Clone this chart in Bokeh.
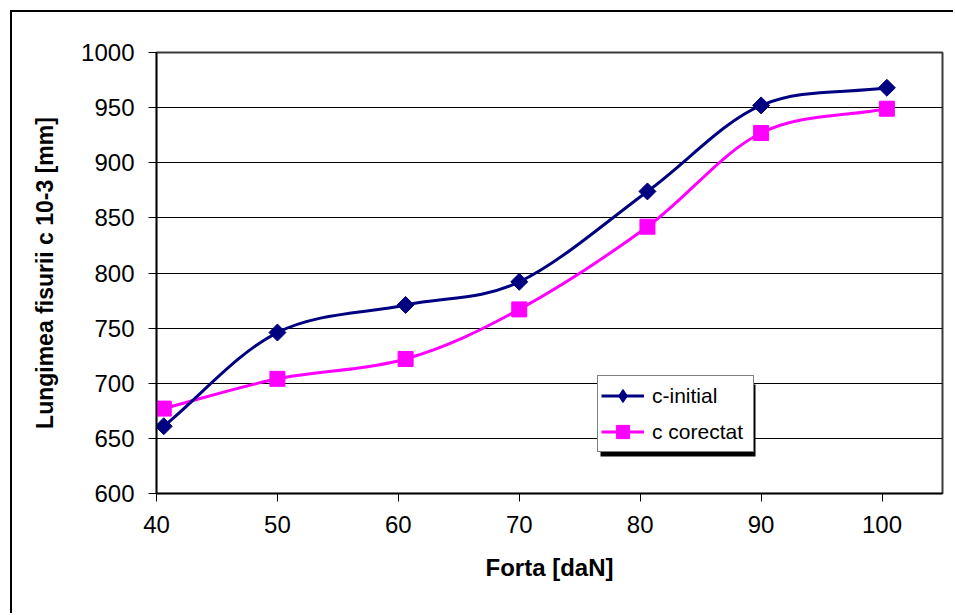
import numpy as np
from bokeh.plotting import figure
from bokeh.models import (ColumnDataSource, FixedTicker, Legend, LegendItem,
                          Range1d, BoxAnnotation)
from bokeh.embed import file_html
from bokeh.resources import INLINE

# ---- data ----
forta = [40.6, 50.0, 60.6, 70.0, 80.6, 90.0, 100.4]
c_initial = [661, 746, 771, 792, 874, 952, 968]
c_corectat = [677, 704, 722, 767, 842, 927, 949]
x_ticks = [40, 50, 60, 70, 80, 90, 100]
y_ticks = [600, 650, 700, 750, 800, 850, 900, 950, 1000]

FONT = "Liberation Sans"


def smooth_segments(xs, ys, k=1.0 / 6.0):
    """Bezier control points (Catmull-Rom style) between successive data points."""
    x = np.asarray(xs, float)
    y = np.asarray(ys, float)
    n = len(x)
    x0, y0, x1, y1, cx0, cy0, cx1, cy1 = ([] for _ in range(8))
    for i in range(n - 1):
        if i > 0:
            xp, yp = x[i - 1], y[i - 1]
        else:
            xp, yp = 2 * x[0] - x[1], 2 * y[0] - y[1]
        if i + 2 < n:
            xn, yn = x[i + 2], y[i + 2]
        else:
            xn, yn = 2 * x[-1] - x[-2], 2 * y[-1] - y[-2]
        x0.append(x[i]); y0.append(y[i])
        x1.append(x[i + 1]); y1.append(y[i + 1])
        cx0.append(x[i] + (x[i + 1] - xp) * k)
        cy0.append(y[i] + (y[i + 1] - yp) * k)
        cx1.append(x[i + 1] - (xn - x[i]) * k)
        cy1.append(y[i + 1] - (yn - y[i]) * k)
    return ColumnDataSource(dict(x0=x0, y0=y0, x1=x1, y1=y1,
                                 cx0=cx0, cy0=cy0, cx1=cx1, cy1=cy1))


W, H = 943, 603
p = figure(width=W, height=H, output_backend="svg", toolbar_location=None,
           x_range=Range1d(40, 105), y_range=Range1d(600, 1000),
           min_border_left=144, min_border_top=40, min_border_right=13,
           min_border_bottom=122)
p.margin = (10, 0, 0, 10)
p.styles = {"border-top": "2px solid black", "border-left": "2px solid black"}

p.background_fill_color = "white"
p.border_fill_color = "white"
p.outline_line_color = "#3a3a3a"
p.outline_line_width = 2

# grid
p.xgrid.grid_line_color = None
p.ygrid.grid_line_color = "black"
p.ygrid.grid_line_width = 1
p.ygrid.ticker = FixedTicker(ticks=y_ticks)

# axes
p.xaxis.ticker = FixedTicker(ticks=x_ticks)
p.yaxis.ticker = FixedTicker(ticks=y_ticks)
for ax in (p.xaxis[0], p.yaxis[0]):
    ax.axis_line_color = "black"
    ax.axis_line_width = 1.5
    ax.major_tick_line_color = "black"
    ax.major_tick_in = 0
    ax.major_tick_out = 8
    ax.minor_tick_line_color = None
    ax.major_label_text_font = FONT
    ax.major_label_text_font_size = "24px"
    ax.major_label_text_color = "black"
    ax.axis_label_text_font = FONT
    ax.axis_label_text_font_style = "bold"
    ax.axis_label_text_color = "black"

p.xaxis.axis_label = "Forta [daN]"
p.xaxis.axis_label_text_font_size = "24px"
p.xaxis.major_label_standoff = 14
p.xaxis.axis_label_standoff = 18

p.yaxis.axis_label = "Lungimea fisurii c 10-3 [mm]"
p.yaxis.axis_label_text_font_size = "23px"
p.yaxis.major_label_standoff = 14
p.yaxis.axis_label_standoff = 20

# series
NAVY = "#000080"
MAG = "#FF00FF"

src_i = smooth_segments(forta, c_initial)
src_c = smooth_segments(forta, c_corectat)
p.bezier(x0="x0", y0="y0", x1="x1", y1="y1", cx0="cx0", cy0="cy0",
         cx1="cx1", cy1="cy1", source=src_c, line_color=MAG, line_width=3)
p.bezier(x0="x0", y0="y0", x1="x1", y1="y1", cx0="cx0", cy0="cy0",
         cx1="cx1", cy1="cy1", source=src_i, line_color=NAVY, line_width=3)

p.scatter(forta, c_corectat, marker="square", size=15,
          fill_color=MAG, line_color=MAG)
p.scatter(forta, c_initial, marker="square", angle=np.pi / 4, size=12,
          fill_color=NAVY, line_color=NAVY)

# legend-only renderers (hidden in the plot, drawn by the legend)
leg_line_i = p.line(forta, c_initial, line_color=NAVY, line_width=3,
                    visible=False)
leg_mark_i = p.scatter(forta, c_initial, marker="diamond", fill_color=NAVY,
                       line_color=NAVY, visible=False)
leg_line_c = p.line(forta, c_corectat, line_color=MAG, line_width=3,
                    visible=False)
leg_mark_c = p.scatter(forta, c_corectat, marker="square", fill_color=MAG,
                       line_color=MAG, visible=False)

# legend shadow (screen units measured from the frame's bottom-left)
shadow = BoxAnnotation(left=444, right=599, top=109, bottom=37,
                       left_units="screen", right_units="screen",
                       top_units="screen", bottom_units="screen",
                       fill_color="black", fill_alpha=1.0, line_color=None)
p.add_layout(shadow)

legend = Legend(items=[
    LegendItem(label="c-initial", renderers=[leg_line_i, leg_mark_i]),
    LegendItem(label="c corectat", renderers=[leg_line_c, leg_mark_c]),
], location=(441, 41))
legend.label_text_font = FONT
legend.label_text_font_size = "21px"
legend.label_text_color = "black"
legend.border_line_color = "black"
legend.border_line_width = 1
legend.background_fill_color = "white"
legend.background_fill_alpha = 1.0
legend.inactive_fill_alpha = 0.0
legend.padding = 3
legend.spacing = 3
legend.margin = 0
legend.glyph_width = 43
legend.glyph_height = 33
legend.label_height = 33
legend.label_width = 98
legend.label_standoff = 8
p.add_layout(legend, "center")

open("out.html", "w").write(file_html(p, INLINE))
